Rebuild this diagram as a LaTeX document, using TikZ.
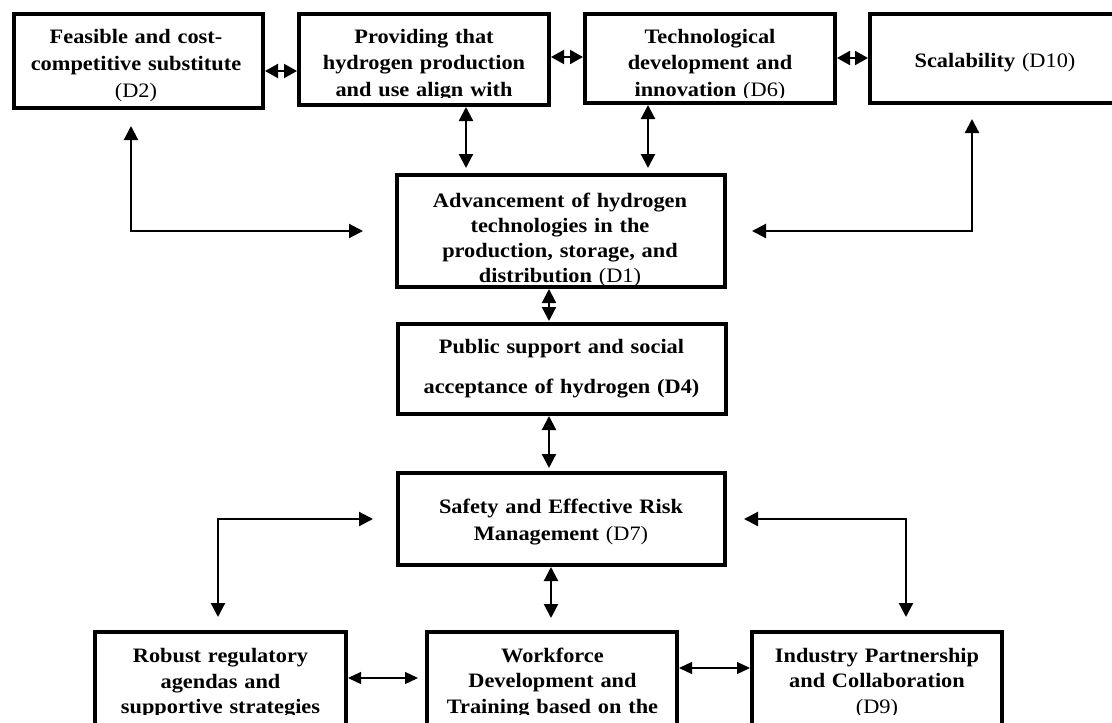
\documentclass[tikz,border=0pt]{standalone}
\usepackage{fontspec}
\setmainfont{Liberation Serif}[FakeStretch=1.09]
\usetikzlibrary{arrows.meta}
\begin{document}
\begin{tikzpicture}[x=1pt,y=-1pt,
  box/.style={draw, line width=4pt, inner sep=0pt},
  txt/.style={inner sep=0pt, anchor=base, align=center, font=\fontsize{20.5}{#1}\selectfont\bfseries},
  arr/.style={line width=2.2pt, {Triangle[length=14pt,width=14pt]}-{Triangle[length=14pt,width=14pt]}},
  thinarr/.style={line width=1.3pt, {Triangle[length=13pt,width=12pt]}-{Triangle[length=13pt,width=12pt]}},
  minarr/.style={line width=2pt, {Triangle[length=13pt,width=14pt]}-{Triangle[length=13pt,width=14pt]}}
]
\useasboundingbox[fill=white] (0,0) rectangle (1112,723);

% boxes
\node[box, minimum width=249pt, minimum height=94pt] (d2) at (138.5,61) {};
\node[box, minimum width=250pt, minimum height=91pt] (d3) at (424,59.5) {};
\node[box, minimum width=250pt, minimum height=89pt] (d6) at (710,58.5) {};
\node[box, minimum width=250pt, minimum height=89pt] (d10) at (995,58.5) {};
\node[box, minimum width=328pt, minimum height=112pt] (d1) at (561,231) {};
\node[box, minimum width=328pt, minimum height=90pt] (d4) at (562,369) {};
\node[box, minimum width=327pt, minimum height=92pt] (d7) at (561.5,519) {};
\node[box, minimum width=251pt, minimum height=108pt] (d5) at (220.5,686) {};
\node[box, minimum width=250pt, minimum height=108pt] (d8) at (552,686) {};
\node[box, minimum width=250pt, minimum height=108pt] (d9) at (877,686) {};

% texts
\node[txt=27, text width=240pt] (t2) at (136,43) {Feasible and cost-\\competitive substitute\\{\mdseries (D2)}};
\begin{scope}
  \clip (d3.north west) rectangle ([yshift=9.5pt]d3.south east);
  \node[txt=26.5, text width=245pt] (t3) at (424,43) {Providing that\\hydrogen production\\and use align with};
\end{scope}
\begin{scope}
  \clip (d6.north west) rectangle ([yshift=7.5pt]d6.south east);
  \node[txt=26.5, text width=245pt] (t6) at (710,43) {Technological\\development and\\innovation {\mdseries (D6)}};
\end{scope}
\node[txt=27, text width=245pt] (t10) at (995,67) {Scalability {\mdseries (D10)}};
\node[txt=25, text width=320pt] (t1) at (560,207) {Advancement of hydrogen\\technologies in the\\production, storage, and\\distribution {\mdseries (D1)}};
\node[txt=40, text width=320pt] (t4) at (561.5,353) {Public support and social\\acceptance of hydrogen (D4)};
\node[txt=27, text width=320pt] (t7) at (561,513) {Safety and Effective Risk\\Management {\mdseries (D7)}};
\coordinate (cut) at (0,714);
\begin{scope}
  \clip (d5.north west) rectangle (d5.east |- cut);
  \node[txt=25.5, text width=245pt] (t5) at (220.5,662.5) {Robust regulatory\\agendas and\\supportive strategies};
\end{scope}
\begin{scope}
  \clip (d8.north west) rectangle (d8.east |- cut);
  \node[txt=25.5, text width=245pt] (t8) at (552.5,662) {Workforce\\Development and\\Training based on the};
\end{scope}
\begin{scope}
  \clip (d9.north west) rectangle (d9.east |- cut);
  \node[txt=25.5, text width=245pt] (t9) at (877,662) {Industry Partnership\\and Collaboration\\{\mdseries (D9)}};
\end{scope}

% top short double arrows
\coordinate (a1) at ([yshift=-10pt]d2.east);
\draw[minarr] (a1) -- (a1 -| d3.west);
\coordinate (a2) at ([yshift=2.5pt]d3.east);
\draw[minarr] (a2) -- (a2 -| d6.west);
\coordinate (a3) at ([yshift=0.5pt]d6.east);
\draw[minarr] (a3) -- (a3 -| d10.west);

% vertical arrows
\coordinate (v1) at ([xshift=42pt]d3.south);
\draw[arr, shorten >=5pt] (v1) -- (v1 |- d1.north);
\coordinate (v2) at ([xshift=-62pt]d6.south);
\draw[arr, shorten >=5pt] (v2) -- (v2 |- d1.north);
\coordinate (v3) at ([xshift=-12pt]d1.south);
\draw[arr, shorten >=1pt] (v3) -- (v3 |- d4.north);
\coordinate (v4) at ([xshift=-13pt]d4.south);
\draw[arr, shorten >=3pt] (v4) -- (v4 |- d7.north);
\coordinate (v5) at ([xshift=-10.5pt]d7.south);
\draw[arr, shorten >=12pt] (v5) -- (v5 |- d8.north);

% elbow arrows
\coordinate (e1) at ([xshift=-7.5pt]d2.south);
\draw[arr, shorten <=16pt, shorten >=32pt] (e1) |- (d1.west);
\coordinate (e2) at ([xshift=-23pt]d10.south);
\draw[arr, shorten <=14pt, shorten >=25pt] (e2) |- (d1.east);
\coordinate (e3) at ([xshift=-2.5pt]d5.north);
\draw[arr, shorten <=13pt, shorten >=23pt] (e3) |- (d7.west);
\coordinate (e4) at ([xshift=29pt]d9.north);
\draw[arr, shorten <=13pt, shorten >=17pt] (e4) |- (d7.east);

% bottom thin arrows
\coordinate (h1) at ([yshift=8pt]d5.east);
\draw[thinarr, shorten >=7pt] (h1) -- (h1 -| d8.west);
\coordinate (h2) at ([yshift=18pt]d8.east);
\draw[thinarr] (h2) -- (h2 -| d9.west);
\end{tikzpicture}
\end{document}
